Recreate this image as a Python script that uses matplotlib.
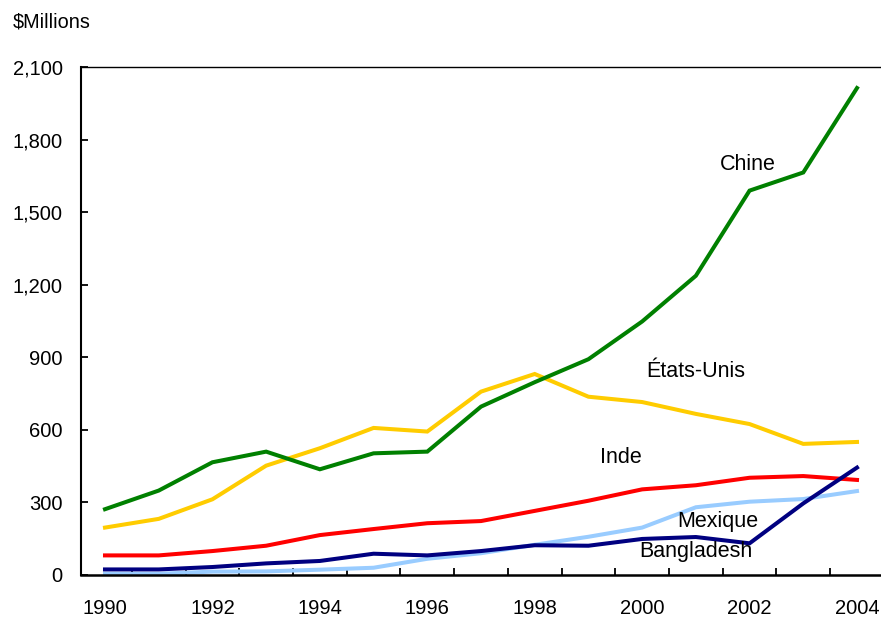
import numpy as np
import matplotlib.pyplot as plt
from matplotlib.ticker import FuncFormatter

plt.rcParams['font.family'] = ['Liberation Sans', 'DejaVu Sans']

years = np.arange(1990, 2005)

chine = [272, 349, 466, 510, 437, 503, 510, 696, 797, 892, 1048, 1237, 1589, 1664, 2013]
etats_unis = [196, 232, 313, 452, 524, 608, 593, 758, 831, 737, 715, 666, 624, 542, 550]
inde = [81, 81, 99, 121, 165, 190, 214, 223, 265, 307, 354, 371, 402, 409, 393]
bangladesh = [23, 23, 33, 48, 58, 88, 81, 99, 123, 121, 149, 157, 131, 296, 444]
mexique = [5, 5, 14, 15, 22, 30, 67, 90, 125, 158, 196, 280, 303, 314, 347]

series = [
    ("Chine", chine, "#008000", (2001.97, 1696)),
    ("États-Unis", etats_unis, "#FFCC00", (2001.0, 840)),
    ("Inde", inde, "#FF0000", (1999.6, 484)),
    ("Mexique", mexique, "#99CCFF", (2001.4, 223)),
    ("Bangladesh", bangladesh, "#000080", (2001.0, 99)),
]

fig = plt.figure(figsize=(8.81, 6.17), dpi=100)
ax = fig.add_axes([80.7 / 881, 1 - 575 / 617, 1 - 80.7 / 881, (575 - 67) / 617])

# draw order: light ones under the dark ones
for name in ["États-Unis", "Chine", "Inde", "Mexique", "Bangladesh"]:
    for n, vals, col, pos in series:
        if n == name:
            ax.plot(years, vals, color=col, lw=2.9, solid_joinstyle='miter', clip_on=False)

for n, vals, col, pos in series:
    ax.text(pos[0], pos[1], n, ha='center', va='center', fontsize=15.5)

ax.set_xlim(1990 - 24.3 / 53.71, 2004 + 24 / 53.71)
ax.set_ylim(0, 2100)

ax.set_xticks(np.arange(1990, 2005, 2))
ax.set_xticks(np.arange(1990.5, 2004, 1), minor=True)
ax.tick_params(axis='x', which='major', length=0, pad=17, labelsize=14.5)
ax.tick_params(axis='x', which='minor', direction='in', length=5, width=1.3)

ax.set_yticks(np.arange(0, 2101, 300))
ax.yaxis.set_major_formatter(FuncFormatter(lambda v, p: f"{int(v):,}"))
ax.tick_params(axis='y', direction='in', length=5, width=1.3, pad=13, labelsize=14.5)

ax.spines['right'].set_visible(False)
ax.spines['left'].set_linewidth(1.5)
ax.spines['bottom'].set_linewidth(1.8)
ax.spines['top'].set_linewidth(1.0)

fig.text(13 / 881, 1 - 22 / 617, "$Millions", ha='left', va='center', fontsize=14.3)

fig.savefig("out.png", dpi=100)
